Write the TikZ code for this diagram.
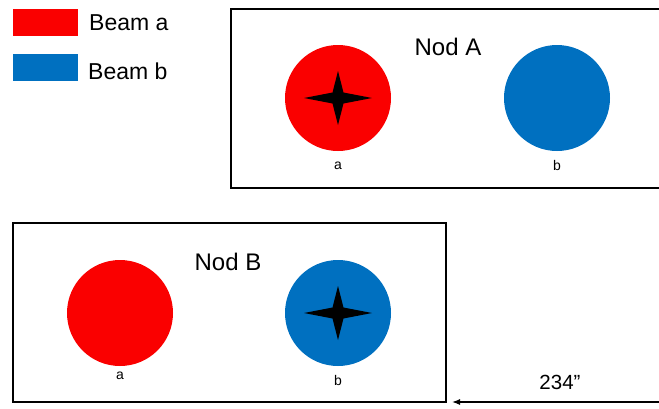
\documentclass[tikz,border=0pt]{standalone}
\usepackage{fontspec}
\setmainfont{Liberation Sans}
\usetikzlibrary{arrows.meta}
\definecolor{beamred}{HTML}{FA0000}
\definecolor{beamblue}{HTML}{0070C0}
\tikzset{
  beam/.style={circle, minimum size=106pt, inner sep=0pt, draw=none},
  framebox/.style={draw=black, line width=1.8pt},
  legendbox/.style={minimum width=65pt, minimum height=27pt, inner sep=0pt, draw=none},
  title/.style={font=\fontsize{24}{26}\selectfont, inner sep=0pt},
  small/.style={font=\fontsize{14}{16}\selectfont, inner sep=0pt},
  legendtext/.style={font=\fontsize{23}{25}\selectfont, inner sep=0pt, anchor=west},
}
% four-pointed star centred on a node
\newcommand{\starmark}[1]{%
  \fill[black] (#1.center) +(34,0) -- +(5.5,-5.5) -- +(0,-27) -- +(-5.5,-5.5) -- +(-34,0)
    -- +(-5.5,5.5) -- +(0,27) -- +(5.5,5.5) -- cycle;}
\begin{document}
\begin{tikzpicture}[x=1pt, y=-1pt]
\useasboundingbox (0,0) rectangle (659,408);
\fill[white] (0,0) rectangle (659,408);

% legend
\node[legendbox, fill=beamred] (la) at (45.5,22.5) {};
\node[legendbox, fill=beamblue] (lb) at (45.5,67.5) {};
\node[legendtext] (ta) at (89,23) {Beam a};
\node[legendtext] (tb) at (88,71) {Beam b};

% Nod A frame (open to the right)
\coordinate (atr) at (660,9);
\coordinate (abr) at (660,188);
\draw[framebox] (atr) -- (231,9) -- (231,188) -- (abr);
\node[title] (nodA) at (448,47) {Nod A};
\node[beam, fill=beamred] (Aa) at (338,98) {};
\node[beam, fill=beamblue] (Ab) at (557,98) {};
\starmark{Aa}
\node[small] (Aal) at (338,166) {a};
\node[small] (Abl) at (557,165) {b};

% Nod B frame
\node[framebox, minimum width=433pt, minimum height=179pt, inner sep=0pt] (boxB) at (229.5,312.5) {};
\node[title] (nodB) at (228,262) {Nod B};
\node[beam, fill=beamred] (Ba) at (120,313) {};
\node[beam, fill=beamblue] (Bb) at (338,313) {};
\starmark{Bb}
\node[small] (Bal) at (120,376) {a};
\node[small] (Bbl) at (338,380) {b};

% distance arrow
\coordinate (arrS) at (659,402);
\coordinate (arrE) at (452,402);
\draw[line width=1.3pt, -{Latex[length=8pt, width=6pt]}] (arrS) -- (arrE);
\node[font=\fontsize{20.5}{22}\selectfont, inner sep=0pt] (dist) at (560,382) {234”};
\end{tikzpicture}
\end{document}
